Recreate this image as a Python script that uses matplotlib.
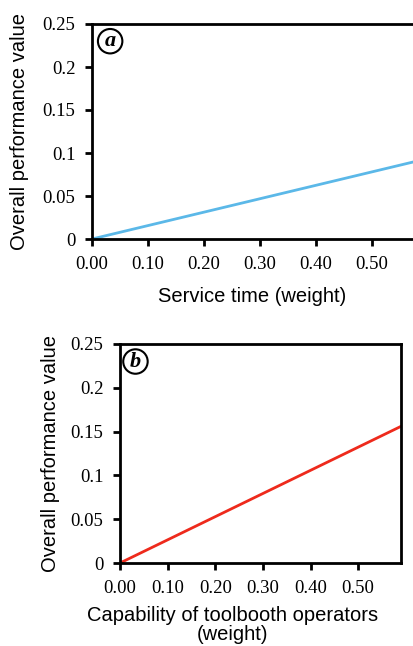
import matplotlib.pyplot as plt

# data
weight_a = [0.0, 0.59]
value_a = [0.0, 0.092]
weight_b = [0.0, 0.59]
value_b = [0.0, 0.156]

xticks = [0.0, 0.1, 0.2, 0.3, 0.4, 0.5]
xticklabels = ["0.00", "0.10", "0.20", "0.30", "0.40", "0.50"]
yticks = [0, 0.05, 0.1, 0.15, 0.2, 0.25]
yticklabels = ["0", "0.05", "0.1", "0.15", "0.2", "0.25"]

serif = "Liberation Serif"
sans = "Liberation Sans"

fig = plt.figure(figsize=(4.14, 6.46), dpi=100)
ax1 = fig.add_axes([92 / 414, 1 - 239 / 646, 330 / 414, 215 / 646])
ax2 = fig.add_axes([120 / 414, 1 - 563 / 646, 281 / 414, 219 / 646])


def style(ax, xlabel, label_x, label_y, letter):
    ax.set_xlim(0, 0.59)
    ax.set_ylim(0, 0.25)
    ax.set_xticks(xticks)
    ax.set_xticklabels(xticklabels, fontfamily=serif, fontsize=13.5)
    ax.set_yticks(yticks)
    ax.set_yticklabels(yticklabels, fontfamily=serif, fontsize=13.5)
    ax.tick_params(direction="out", length=5, width=2, color="black", pad=7)
    for s in ax.spines.values():
        s.set_linewidth(2)
    ax.set_xlabel(xlabel, fontfamily=sans, fontsize=14.5, linespacing=1.05)
    ax.xaxis.set_label_coords(label_x, label_y)
    ax.xaxis.label.set_verticalalignment("top")
    ax.set_ylabel("Overall performance value", fontfamily=sans, fontsize=14.5)
    ax.text(0.055, 0.92, letter, transform=ax.transAxes, ha="center", va="center",
            fontfamily=serif, fontsize=16, fontweight="bold", fontstyle="italic",
            bbox=dict(boxstyle="circle,pad=0.1", fc="white", ec="black", lw=1.5))


ax1.plot(weight_a, value_a, color="#5BB8E8", lw=2)
style(ax1, "Service time (weight)", 0.485, -0.225, "a")
ax1.yaxis.set_label_coords(-0.19, 0.5)

ax2.plot(weight_b, value_b, color="#EE2A1C", lw=2)
style(ax2, "Capability of toolbooth operators\n(weight)", 0.40, -0.195, "b")
ax2.yaxis.set_label_coords(-0.215, 0.5)

fig.savefig("out.png", dpi=100)
